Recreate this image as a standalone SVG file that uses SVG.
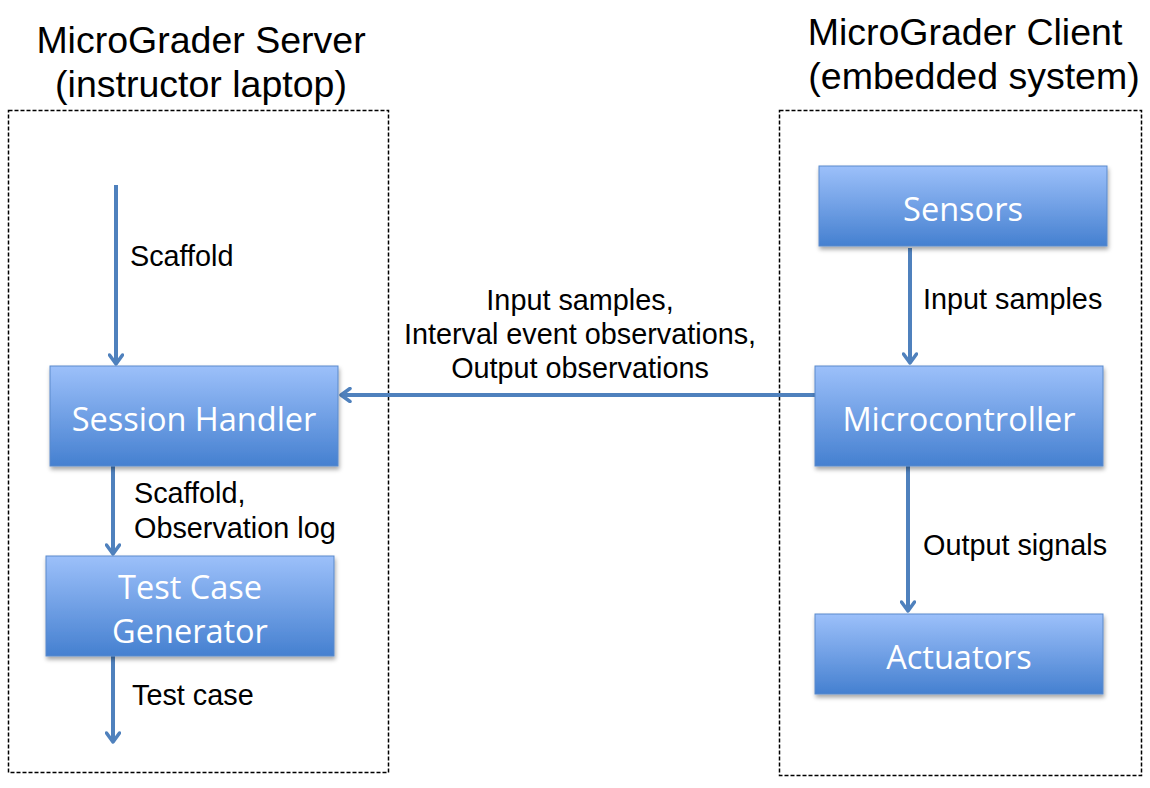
<svg xmlns="http://www.w3.org/2000/svg" width="1150" height="788" viewBox="0 0 1150 788">
<defs>
<linearGradient id="g" x1="0" y1="0" x2="0" y2="1">
<stop offset="0" stop-color="#9CC0FA"/>
<stop offset="1" stop-color="#4580D0"/>
</linearGradient>
<filter id="sh" x="-10%" y="-10%" width="120%" height="130%">
<feDropShadow dx="1" dy="3" stdDeviation="2" flood-color="#000" flood-opacity="0.35"/>
</filter>
<marker id="ah" markerWidth="16" markerHeight="16" refX="12" refY="8" orient="auto" markerUnits="userSpaceOnUse" viewBox="0 0 16 16">
<path d="M3,1.5 L12,8 L3,14.5" fill="none" stroke="#4F81BD" stroke-width="3.5" stroke-linecap="round" stroke-linejoin="round"/>
</marker>
</defs>
<style>
.frame{fill:none;stroke:#000;stroke-width:1.5;stroke-dasharray:4,2}
.box{fill:url(#g);stroke:#5A8ACB;stroke-width:1;filter:url(#sh)}
.bt{font-family:"Open Sans","Noto Sans",sans-serif;font-size:32.5px;fill:#fff;text-anchor:middle}
.title{font-family:"Liberation Sans",Arial,sans-serif;font-size:37.5px;fill:#000;text-anchor:middle}
.lab{font-family:"Liberation Sans",Arial,sans-serif;font-size:28.8px;fill:#000}
.c{fill:none;stroke:#4F81BD;stroke-width:4;marker-end:url(#ah)}
</style>
<rect width="1150" height="788" fill="#fff"/>
<g id="titles">
<text class="title" x="201" y="53">MicroGrader Server</text>
<text class="title" x="201" y="97">(instructor laptop)</text>
<text class="title" x="965" y="45">MicroGrader Client</text>
<text class="title" x="974" y="89">(embedded system)</text>
</g>
<g id="server-frame"><rect class="frame" x="8.5" y="110.5" width="380" height="662"/></g>
<g id="client-frame"><rect class="frame" x="779.5" y="110.5" width="362" height="665"/></g>
<g id="connectors">
<line class="c" x1="116" y1="185" x2="116" y2="364"/>
<line class="c" x1="113" y1="466" x2="113" y2="554"/>
<line class="c" x1="113" y1="656" x2="113" y2="742"/>
<line class="c" x1="910" y1="248" x2="910" y2="363"/>
<line class="c" x1="908" y1="466" x2="908" y2="611"/>
<line class="c" x1="815" y1="395" x2="341" y2="395"/>
<text class="lab" x="130" y="266">Scaffold</text>
<text class="lab" x="134" y="503">Scaffold,</text>
<text class="lab" x="134" y="538">Observation log</text>
<text class="lab" x="132" y="705">Test case</text>
<text class="lab" x="923" y="309">Input samples</text>
<text class="lab" x="923" y="555">Output signals</text>
<text class="lab" x="580" y="310" text-anchor="middle">Input samples,</text>
<text class="lab" x="580" y="344" text-anchor="middle">Interval event observations,</text>
<text class="lab" x="580" y="378" text-anchor="middle">Output observations</text>
</g>
<g id="session-handler"><rect class="box" x="50" y="366" width="288" height="100"/><text class="bt" x="194" y="431">Session Handler</text></g>
<g id="test-case-generator"><rect class="box" x="46" y="556" width="288" height="100"/><text class="bt" x="190" y="599">Test Case</text><text class="bt" x="190" y="643">Generator</text></g>
<g id="sensors"><rect class="box" x="819" y="166" width="288" height="80"/><text class="bt" x="963" y="221">Sensors</text></g>
<g id="microcontroller"><rect class="box" x="815" y="366" width="288" height="100"/><text class="bt" x="959" y="431">Microcontroller</text></g>
<g id="actuators"><rect class="box" x="815" y="614" width="288" height="80"/><text class="bt" x="959" y="669">Actuators</text></g>
</svg>
